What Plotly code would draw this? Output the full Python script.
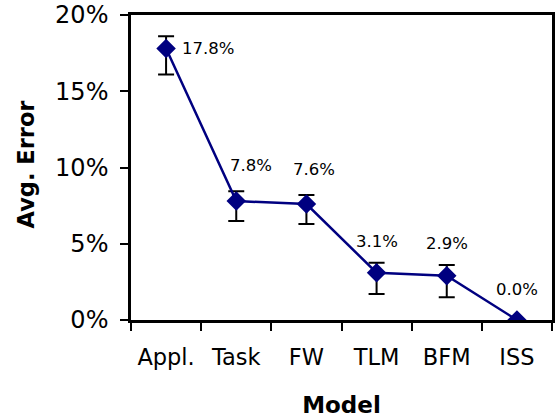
import plotly.graph_objects as go

models = ["Appl.", "Task", "FW", "TLM", "BFM", "ISS"]
avg_error = [17.8, 7.8, 7.6, 3.1, 2.9, 0.0]
err_plus = [0.8, 0.65, 0.6, 0.65, 0.7, 0.0]
err_minus = [1.7, 1.3, 1.3, 1.4, 1.4, 0.0]
labels = ["17.8%", "7.8%", "7.6%", "3.1%", "2.9%", "0.0%"]
y_ticks = [0, 5, 10, 15, 20]
y_tick_text = ["0%", "5%", "10%", "15%", "20%"]

FONT = "DejaVu Sans, Liberation Sans, Arial, sans-serif"

fig = go.Figure()
fig.add_trace(go.Scatter(
    x=models, y=avg_error, mode="lines+markers",
    line=dict(color="#000080", width=2.5),
    marker=dict(symbol="diamond", size=15, color="#000080"),
    error_y=dict(type="data", symmetric=False, array=err_plus, arrayminus=err_minus,
                 color="black", thickness=2, width=8),
    showlegend=False,
))

label_xshift = [14, 15, 8, 0, 0, 0]
label_yshift = [0, 36, 35, 31, 32, 31]
for i, (m, v, t) in enumerate(zip(models, avg_error, labels)):
    fig.add_annotation(x=m, y=v, text=t, showarrow=False,
                       xanchor="left" if i == 0 else "center",
                       xshift=label_xshift[i], yshift=label_yshift[i],
                       font=dict(family=FONT, size=16.5, color="black"))

# y-axis title placed as a rotated annotation
fig.add_annotation(x=0, y=0.51, xref="paper", yref="paper", text="<b>Avg. Error</b>",
                   textangle=-90, showarrow=False, xanchor="center", yanchor="middle",
                   xshift=-105, font=dict(family=FONT, size=22.5, color="black"))

fig.update_layout(
    width=556, height=419,
    margin=dict(l=131, r=4, t=15, b=99, autoexpand=False),
    plot_bgcolor="white", paper_bgcolor="white",
    font=dict(family=FONT, color="black"),
    xaxis=dict(
        type="category", range=[-0.5, 5.5], tickson="boundaries",
        ticks="outside", ticklen=8, tickwidth=1.5, tickcolor="black",
        showline=True, linecolor="black", linewidth=2.5, mirror=True,
        showgrid=False, zeroline=False, automargin=False,
        tickfont=dict(family=FONT, size=22.5), ticklabelstandoff=15,
        title=dict(text="<b>Model</b>", font=dict(family=FONT, size=23), standoff=29),
    ),
    yaxis=dict(
        range=[0, 20], tickvals=y_ticks, ticktext=y_tick_text,
        ticks="outside", ticklen=8, tickwidth=1.5, tickcolor="black",
        showline=True, linecolor="black", linewidth=2.5, mirror=True,
        showgrid=False, zeroline=False, automargin=False,
        tickfont=dict(family=FONT, size=24), ticklabelstandoff=7,
        ticklabeloverflow="allow",
    ),
)

fig.write_html(
    "out.html",
    config={"displayModeBar": False},
    post_script="document.body.style.margin='0px';document.body.style.overflow='hidden';",
)
